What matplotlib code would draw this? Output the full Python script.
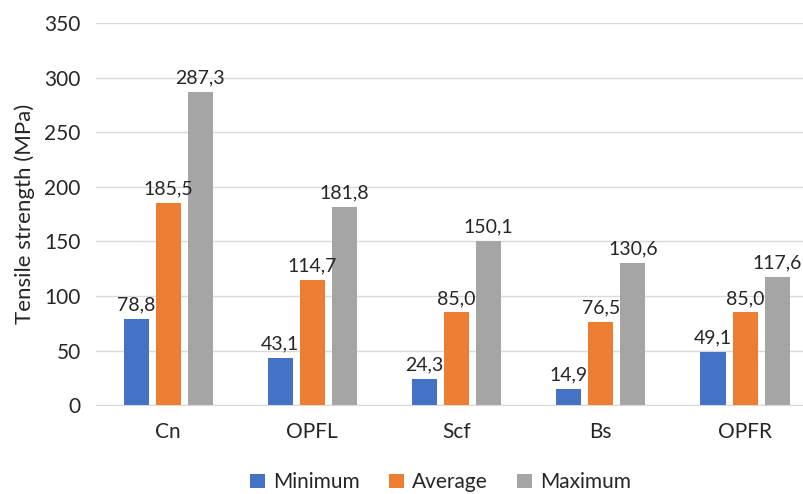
import matplotlib
matplotlib.use("Agg")
import matplotlib.pyplot as plt
import numpy as np

categories = ["Cn", "OPFL", "Scf", "Bs", "OPFR"]
minimum = [78.8, 43.1, 24.3, 14.9, 49.1]
average = [185.5, 114.7, 85.0, 76.5, 85.0]
maximum = [287.3, 181.8, 150.1, 130.6, 117.6]
series_names = ["Minimum", "Average", "Maximum"]
colors = ["#4472C4", "#ED7D31", "#A5A5A5"]

plt.rcParams['font.family'] = ['Lato', 'DejaVu Sans']
txt = "#262626"

fig = plt.figure(figsize=(8.04, 4.94), dpi=100)
ax = fig.add_axes([0.1194, 0.180, 0.897, 0.773])

x = np.arange(len(categories))
w = 0.174
off = 0.222
for i, (vals, name, c) in enumerate(zip([minimum, average, maximum], series_names, colors)):
    bars = ax.bar(x + (i - 1) * off, vals, width=w, color=c, label=name, zorder=3)
    for b, v in zip(bars, vals):
        ax.text(b.get_x() + b.get_width() / 2, v + 5, f"{v:.1f}".replace(".", ","),
                ha="center", va="bottom", fontsize=14, color=txt, zorder=6)

ax.set_xlim(-0.5, len(categories) - 0.5)
ax.set_ylim(0, 350)
ax.set_yticks(np.arange(0, 351, 50))
ax.set_xticks(x)
ax.set_xticklabels(categories)
ax.tick_params(axis="both", length=0, labelsize=15, colors=txt)
ax.tick_params(axis="x", pad=12)
ax.tick_params(axis="y", pad=11)
ax.grid(axis="y", color="#D9D9D9", linewidth=1, zorder=0)
for s in ["top", "right", "left"]:
    ax.spines[s].set_visible(False)
ax.spines["bottom"].set_color("#D9D9D9")
ax.set_ylabel("Tensile strength (MPa)", fontsize=16, color=txt, labelpad=7)

leg = fig.legend(loc="center", bbox_to_anchor=(0.548, 0.024), ncol=3, frameon=False,
                 fontsize=15, handlelength=0.7, handleheight=0.7, handletextpad=0.4,
                 columnspacing=1.4, labelcolor=txt)

fig.savefig("out.png", dpi=100)
